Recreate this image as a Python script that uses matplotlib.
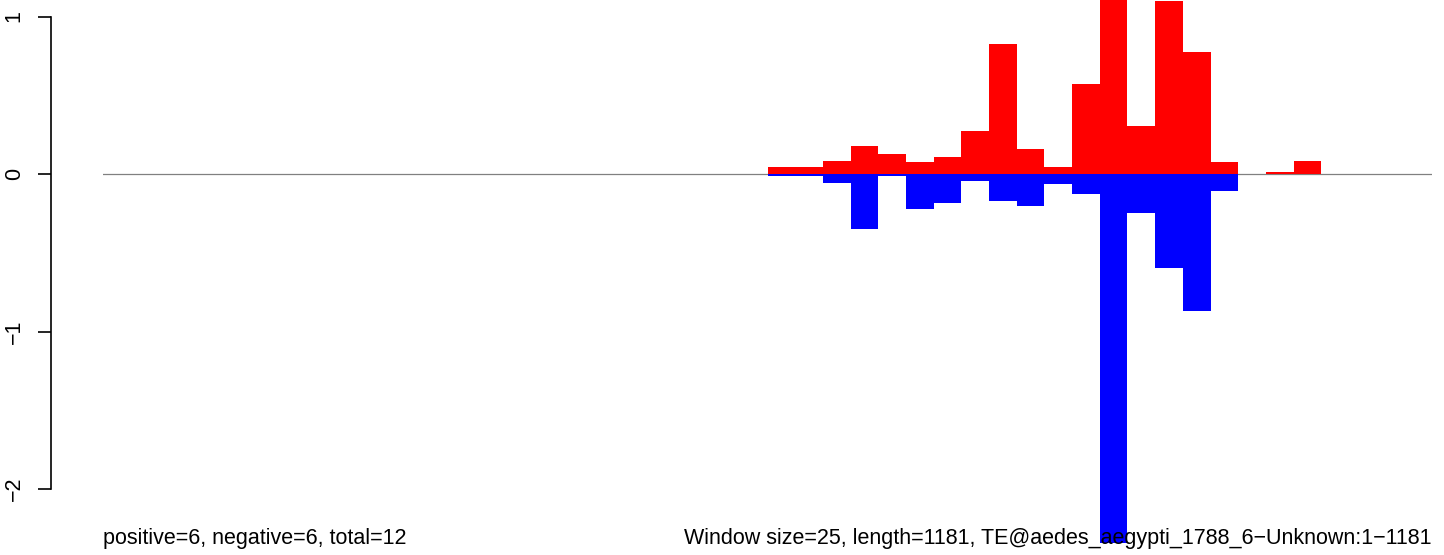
import numpy as np
import matplotlib
matplotlib.use("Agg")
import matplotlib.pyplot as plt

plt.rcParams['font.family'] = ['Liberation Sans', 'DejaVu Sans']

# ventanas de 25 pb sobre longitud 1181 -> 48 ventanas
ventana = 25
longitud = 1181
nombre_te = "TE@aedes_aegypti_1788_6\u2212Unknown:1\u22121181"

positivos = [0, 0, 0, 0, 0, 0, 0, 0, 0, 0, 0, 0,
             0, 0, 0, 0, 0, 0, 0, 0, 0, 0, 0, 0,
             0.042, 0.042, 0.080, 0.176, 0.125, 0.074, 0.106, 0.271,
             0.823, 0.157, 0.042, 0.569, 1.20, 0.303, 1.096, 0.773,
             0.074, 0, 0.011, 0.080, 0, 0, 0, 0]
negativos = [0, 0, 0, 0, 0, 0, 0, 0, 0, 0, 0, 0,
             0, 0, 0, 0, 0, 0, 0, 0, 0, 0, 0, 0,
             -0.013, -0.013, -0.057, -0.351, -0.013, -0.224, -0.184, -0.047,
             -0.174, -0.205, -0.063, -0.129, -2.40, -0.248, -0.597, -0.870,
             -0.108, 0, 0, 0, 0, 0, 0, 0]
n_pos = 6
n_neg = 6

W, H = 1444, 555
fig = plt.figure(figsize=(W / 100, H / 100), dpi=100)
ax = fig.add_axes([103 / W, 12 / H, (1432 - 103) / W, 543 / H])

x = np.arange(len(positivos))
# linea del cero por debajo de las barras
ax.axhline(0, color='#808080', lw=0.9, zorder=1)
ax.bar(x, positivos, width=1, align='edge', color='#ff0000', lw=0, zorder=2)
ax.bar(x, negativos, width=1, align='edge', color='#0000ff', lw=0, zorder=2)

ax.set_xlim(0, len(positivos))
ax.set_ylim(-2.343, 1.105)

for s in ['top', 'right', 'bottom']:
    ax.spines[s].set_visible(False)
ax.spines['left'].set_position(('outward', 52 * 0.72))
ax.spines['left'].set_bounds(-2, 1)
ax.spines['left'].set_linewidth(1.2)
ax.set_xticks([])
ax.set_yticks([-2, -1, 0, 1])
ax.set_yticklabels(['\u22122', '\u22121', '0', '1'], rotation=90, va='center')
ax.tick_params(axis='y', length=13 * 0.72, width=1.2, pad=9.5, labelsize=15.5)

fig.text(103 / W, 11 / H, f"positive={n_pos}, negative={n_neg}, total={n_pos + n_neg}",
         ha='left', va='baseline', fontsize=15.5)
fig.text(1432 / W, 11 / H,
         f"Window size={ventana}, length={longitud}, {nombre_te}",
         ha='right', va='baseline', fontsize=15.5, zorder=5)

fig.savefig("out.png", dpi=100)
